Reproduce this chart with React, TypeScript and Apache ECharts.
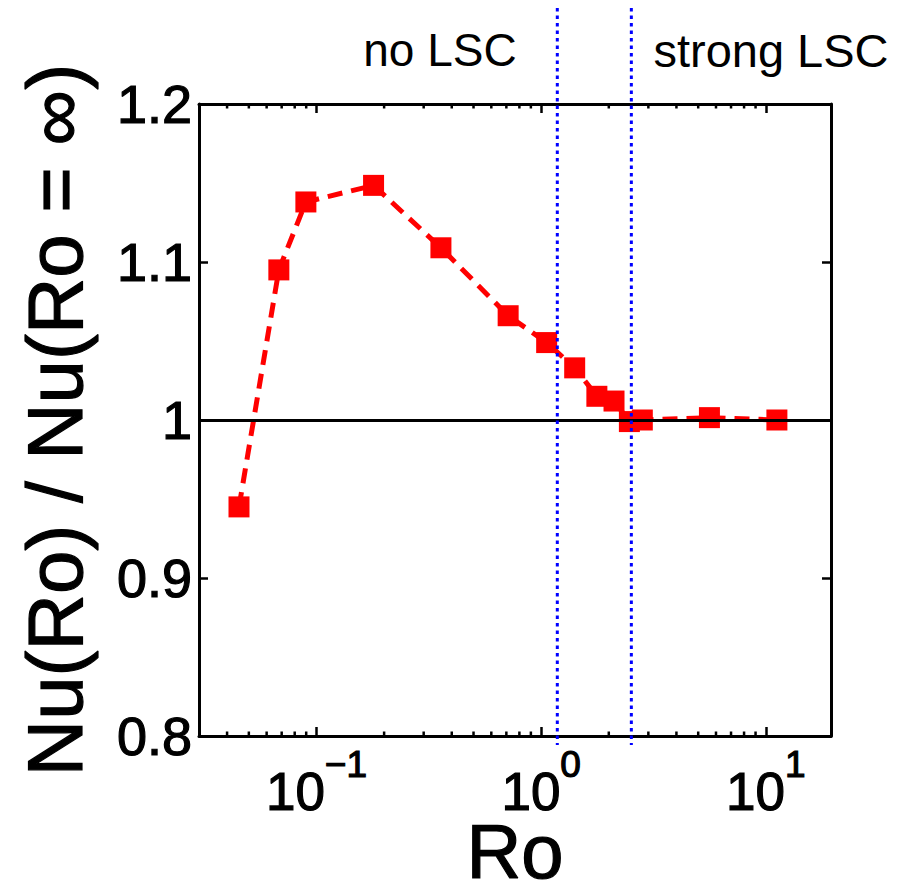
import React, { useEffect, useRef } from "react";
import * as echarts from "echarts";

// Data
const roValues = [0.0452, 0.068, 0.0897, 0.1795, 0.358, 0.713, 1.058, 1.41, 1.77, 2.11, 2.47, 2.82, 5.61, 11.2];
const nuRatio = [0.945, 1.095, 1.138, 1.1485, 1.109, 1.066, 1.049, 1.033, 1.015, 1.012, 0.999, 1.0, 1.0015, 1.0];
const regimeBoundaries = [1.18, 2.52];
const regimeLabels = ["no LSC", "strong LSC"];
const minorTickValues = [
  0.04, 0.05, 0.06, 0.07, 0.08, 0.09,
  0.2, 0.3, 0.4, 0.5, 0.6, 0.7, 0.8, 0.9,
  2, 3, 4, 5, 6, 7, 8, 9,
];
const referenceLevel = 1;
const xLimits = [0.03, 19.5];
const yLimits = [0.8, 1.2];
const yInterval = 0.1;

const FONT = "Liberation Sans, Arial, Helvetica, sans-serif";
const HEAVY = { textBorderColor: "#000", textBorderWidth: 1.2 };

export default function App() {
  const ref = useRef<HTMLDivElement>(null);

  useEffect(() => {
    document.body.style.margin = "0";
    if (!ref.current) return;
    const chart = echarts.init(ref.current, undefined, { renderer: "svg" });

    const isPow10 = (v: number) => {
      const l = Math.log10(v);
      return Math.abs(l - Math.round(l)) < 1e-6;
    };

    const axisLineStyle = { color: "#000", width: 3 };
    const majorTick = { show: true, inside: true, length: 9, lineStyle: { color: "#000", width: 2.5 } };

    const option: any = {
      animation: false,
      backgroundColor: "#fff",
      grid: {
        left: 199,
        right: 77,
        top: 104,
        bottom: 144,
        containLabel: false,
        outerBoundsMode: "none",
      },
      xAxis: [
        {
          type: "log",
          logBase: 10,
          min: xLimits[0],
          max: xLimits[1],
          position: "bottom",
          axisLine: { show: true, lineStyle: axisLineStyle },
          axisTick: majorTick,
          splitLine: { show: false },
          axisLabel: {
            show: true,
            margin: 10,
            color: "#000",
            fontFamily: FONT,
            ...HEAVY,
            showMinLabel: false,
            showMaxLabel: false,
            formatter: (v: number) => {
              if (!isPow10(v)) return "";
              const e = Math.round(Math.log10(v));
              const s = e < 0 ? "\u2212" + -e : String(e);
              return `{b|10}{s|${s}}`;
            },
            rich: {
              b: { fontSize: 53, fontFamily: FONT, color: "#000", lineHeight: 72, verticalAlign: "bottom", ...HEAVY },
              s: { fontSize: 37, fontFamily: FONT, color: "#000", lineHeight: 40, verticalAlign: "top", ...HEAVY },
            },
          },
          name: "Ro",
          nameLocation: "middle",
          nameGap: 87,
          nameMoveOverlap: false,
          nameTextStyle: {
            fontSize: 76,
            lineHeight: 56,
            fontFamily: FONT,
            color: "#000",
            ...HEAVY,
          },
        },
        {
          type: "log",
          logBase: 10,
          min: xLimits[0],
          max: xLimits[1],
          position: "top",
          axisLine: { show: true, lineStyle: axisLineStyle },
          axisTick: majorTick,
          axisLabel: { show: false },
          splitLine: { show: false },
        },
      ],
      yAxis: [
        {
          type: "value",
          min: yLimits[0],
          max: yLimits[1],
          interval: yInterval,
          position: "left",
          axisLine: { show: true, lineStyle: axisLineStyle },
          axisTick: majorTick,
          splitLine: { show: false },
          axisLabel: {
            margin: 7,
            fontSize: 54,
            fontFamily: FONT,
            color: "#000",
            ...HEAVY,
            formatter: (v: number) => String(+v.toFixed(1)),
          },
          name: "Nu(Ro) / Nu(Ro = \u221E)",
          nameLocation: "middle",
          nameGap: 105,
          nameMoveOverlap: false,
          nameRotate: 90,
          nameTextStyle: { fontSize: 78, fontFamily: FONT, color: "#000", ...HEAVY },
        },
        {
          type: "value",
          min: yLimits[0],
          max: yLimits[1],
          interval: yInterval,
          position: "right",
          axisLine: { show: true, lineStyle: axisLineStyle },
          axisTick: majorTick,
          axisLabel: { show: false },
          splitLine: { show: false },
        },
      ],
      series: [
        {
          name: "Nu ratio",
          type: "line",
          xAxisIndex: 0,
          yAxisIndex: 0,
          data: roValues.map((r, i) => [r, nuRatio[i]]),
          symbol: "rect",
          symbolSize: 21,
          itemStyle: { color: "#ff0000" },
          lineStyle: { color: "#ff0000", width: 5, type: [15, 9] },
          z: 2,
        },
        {
          name: "minor ticks",
          type: "custom",
          xAxisIndex: 0,
          yAxisIndex: 0,
          silent: true,
          data: minorTickValues.map((v) => [v, referenceLevel]),
          renderItem: (params: any, api: any) => {
            const cs = params.coordSys;
            const x = api.coord([api.value(0), api.value(1)])[0];
            const bottom = cs.y + cs.height;
            const top = cs.y;
            const style = { stroke: "#000", lineWidth: 2.5 };
            return {
              type: "group",
              children: [
                { type: "line", shape: { x1: x, y1: bottom, x2: x, y2: bottom - 4.5 }, style },
                { type: "line", shape: { x1: x, y1: top, x2: x, y2: top + 4.5 }, style },
              ],
            };
          },
          z: 3,
        },
        {
          name: "reference",
          type: "line",
          xAxisIndex: 0,
          yAxisIndex: 0,
          data: [],
          markLine: {
            silent: true,
            symbol: "none",
            label: { show: false },
            lineStyle: { color: "#000", width: 3, type: "solid" },
            data: [{ yAxis: referenceLevel }],
          },
          z: 4,
        },
        {
          name: "regimes",
          type: "custom",
          xAxisIndex: 0,
          yAxisIndex: 0,
          silent: true,
          clip: false,
          data: regimeBoundaries.map((v) => [v, referenceLevel]),
          renderItem: (params: any, api: any) => {
            const cs = params.coordSys;
            const x = api.coord([api.value(0), api.value(1)])[0];
            return {
              type: "line",
              shape: { x1: x, y1: cs.y - 96, x2: x, y2: cs.y + cs.height + 9 },
              style: { stroke: "#0000ff", lineWidth: 3, lineDash: [3.5, 4] },
            };
          },
          z: 5,
        },
      ],
      graphic: [
        {
          type: "text",
          x: 440,
          y: 50,
          style: {
            text: regimeLabels[0],
            font: `46px ${FONT}`,
            fill: "#000",
            textAlign: "center",
            textVerticalAlign: "middle",
          },
        },
        {
          type: "text",
          x: 771,
          y: 50,
          style: {
            text: regimeLabels[1],
            font: `47px ${FONT}`,
            fill: "#000",
            textAlign: "center",
            textVerticalAlign: "middle",
          },
        },
      ],
    };

    chart.setOption(option);
    return () => chart.dispose();
  }, []);

  return <div ref={ref} style={{ width: 908, height: 880 }} />;
}
